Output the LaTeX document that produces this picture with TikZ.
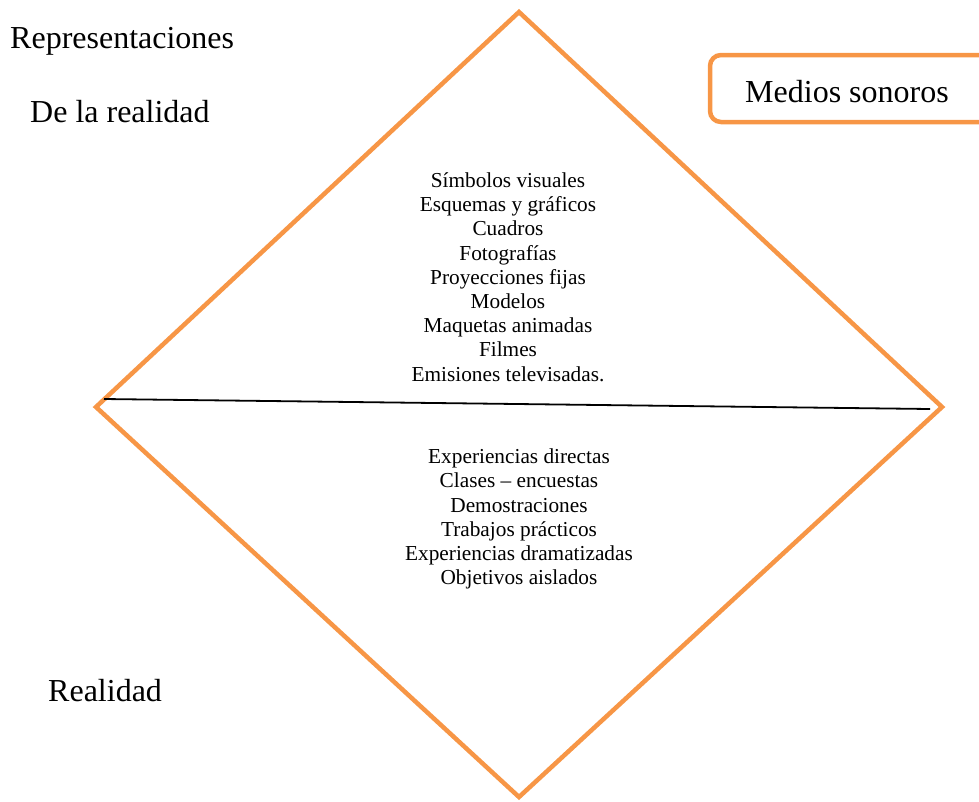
\documentclass[tikz,border=0pt]{standalone}
\usepackage{fontspec}
\setmainfont{Liberation Serif}
\definecolor{accentorange}{HTML}{F79646}
\begin{document}
\begin{tikzpicture}[x=1pt,y=-1pt,
  diamondline/.style={draw=accentorange,line width=4.5pt,line join=miter},
  biglabel/.style={font=\fontsize{32}{36}\selectfont,inner sep=0pt},
  listtext/.style={font=\fontsize{21.3}{24.2}\selectfont,align=center,inner sep=0pt},
  soundbox/.style={draw=accentorange,line width=4.5pt,rounded corners=11pt}]
\useasboundingbox (0,0) rectangle (979,801);
\clip (0,0) rectangle (979,801);
% diamond
\coordinate (top) at (519,12);
\coordinate (left) at (96,407);
\coordinate (right) at (942,407);
\coordinate (bottom) at (519,797);
\draw[diamondline] (top) -- (right) -- (bottom) -- (left) -- cycle;
% dividing line
\coordinate (lineL) at (104,399);
\coordinate (lineR) at (930,409);
\draw[line width=1.8pt] (lineL) -- (lineR);
% upper list
\node[listtext] (upper) at (508,277) {Símbolos visuales\\Esquemas y gráficos\\Cuadros\\Fotografías\\Proyecciones fijas\\Modelos\\Maquetas animadas\\Filmes\\Emisiones televisadas.};
% lower list
\node[listtext] (lower) at (519,519) {Experiencias directas\\Clases – encuestas\\Demostraciones\\Trabajos prácticos\\Experiencias dramatizadas\\Objetivos aislados};
% labels
\node[biglabel,anchor=west] (repr) at (10,41) {Representaciones};
\node[biglabel,anchor=west] (dela) at (30,112) {De la realidad};
\node[biglabel,anchor=west] (real) at (48,691) {Realidad};
% medios sonoros box
\draw[soundbox] (710,55) rectangle (1010,122);
\node[biglabel] (medios) at (847,92) {Medios sonoros};
\end{tikzpicture}
\end{document}
